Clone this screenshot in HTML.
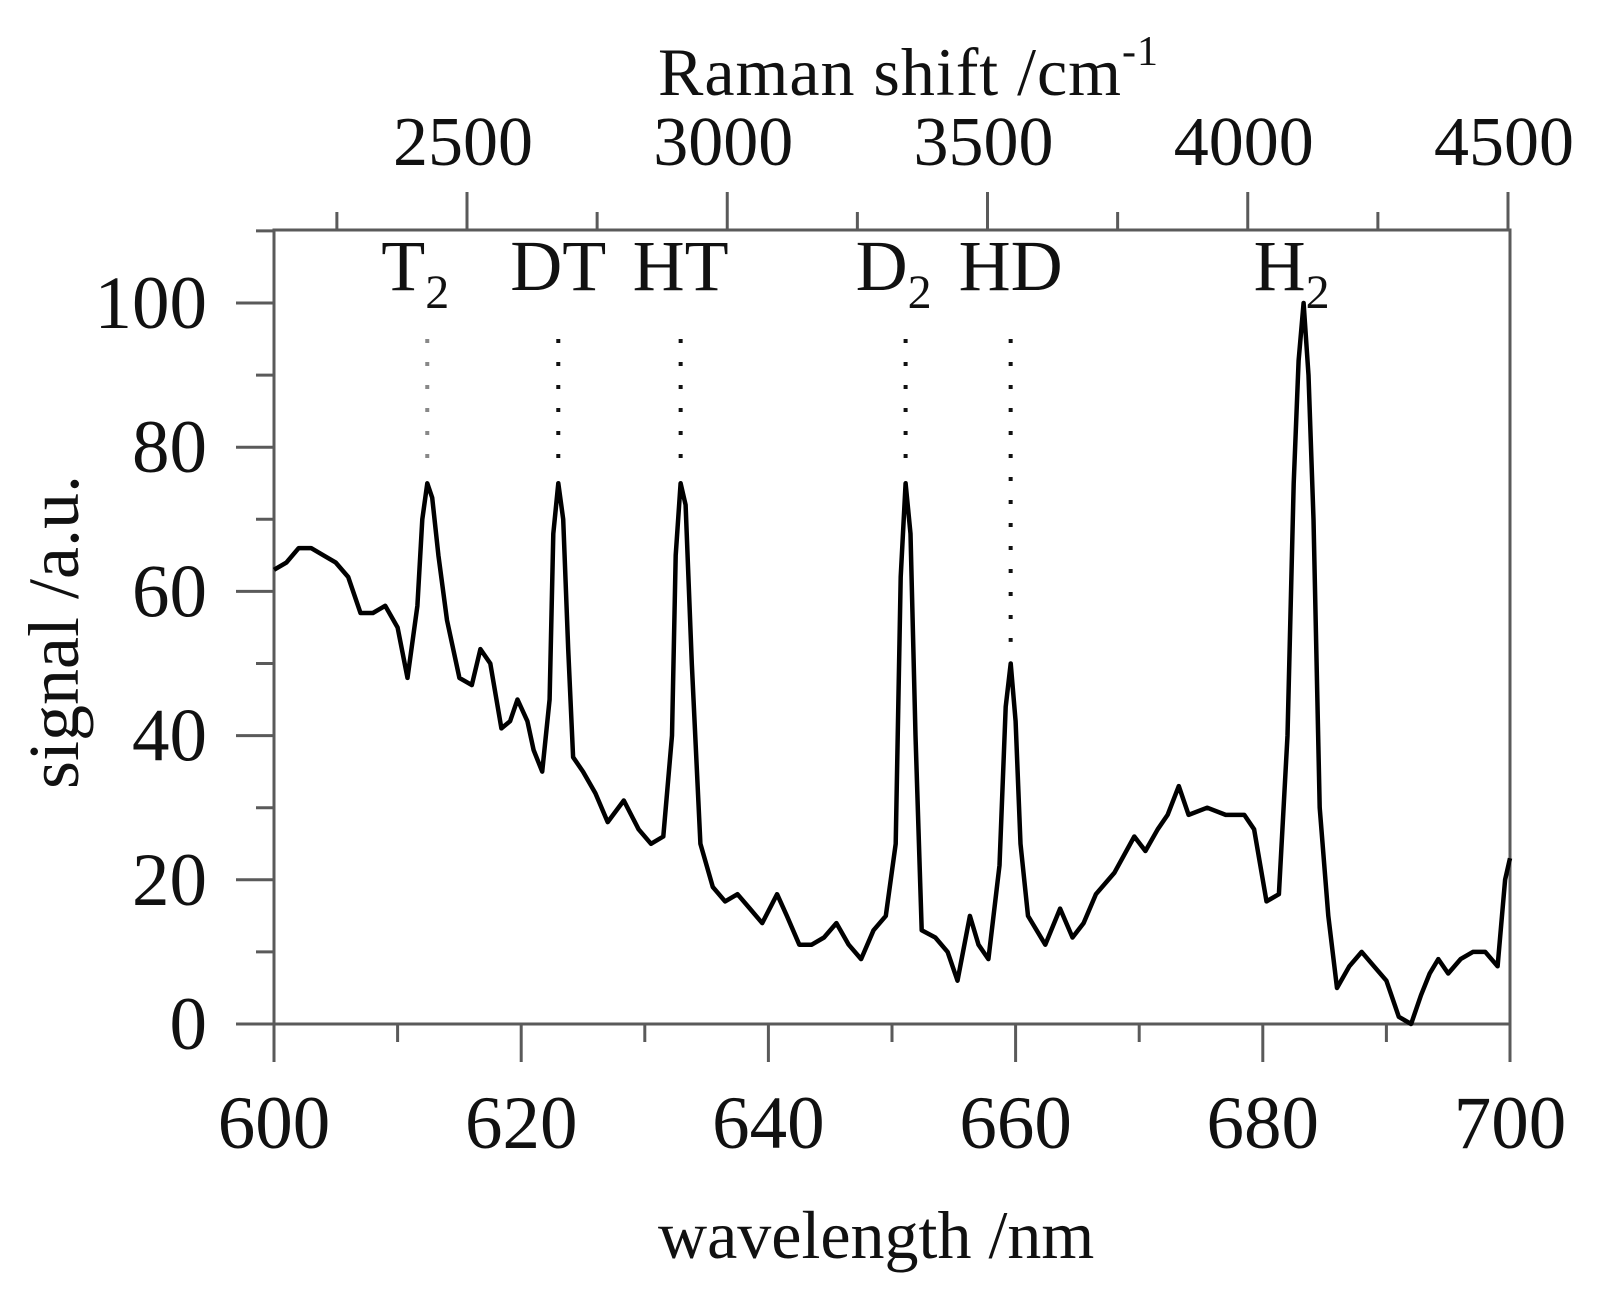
<!DOCTYPE html>
<html><head><meta charset="utf-8"><style>
html,body{margin:0;padding:0;background:#fff}
svg{display:block}
text{font-family:"Liberation Serif",serif;fill:#111}
</style></head><body>
<svg id="chart" width="1610" height="1293" viewBox="0 0 1610 1293" xmlns="http://www.w3.org/2000/svg">
<g id="axes"></g><g id="marks"></g><g id="labels"></g>
</svg>
<script>
const wavelengths=[600,601,602,603,604,605,606,607,608,609,610,610.8,611.6,612.0,612.4,612.8,613.3,614,615,616,616.7,617.5,618.4,619.1,619.7,620.5,621,621.7,622.3,622.6,623.0,623.4,623.8,624.2,625,626,627,628.3,629.5,630.5,631.5,632.2,632.5,632.9,633.3,633.8,634.5,635.5,636.5,637.5,638.5,639.5,640.7,641.5,642.5,643.5,644.5,645.5,646.5,647.5,648.5,649.5,650.3,650.7,651.1,651.5,651.9,652.4,653.5,654.5,655.3,656.3,657,657.8,658.7,659.2,659.6,660.0,660.4,661,662.4,663.6,664.6,665.5,666.5,668,669.6,670.5,671.5,672.3,673.2,674,675.5,677,678.5,679.3,680.3,681.3,682,682.5,682.9,683.3,683.7,684.1,684.6,685.3,686,687,688,689,690,691,692,692.8,693.5,694.2,695,696,697,698,699,699.6,700];
const signal=[63,64,66,66,65,64,62,57,57,58,55,48,58,70,75,73,65,56,48,47,52,50,41,42,45,42,38,35,45,68,75,70,52,37,35,32,28,31,27,25,26,40,65,75,72,50,25,19,17,18,16,14,18,15,11,11,12,14,11,9,13,15,25,62,75,68,40,13,12,10,6,15,11,9,22,44,50,42,25,15,11,16,12,14,18,21,26,24,27,29,33,29,30,29,29,27,17,18,40,75,92,100,90,70,30,15,5,8,10,8,6,1,0,4,7,9,7,9,10,10,8,20,23];
const xTicks=[600,620,640,660,680,700];
const yTicks=[0,20,40,60,80,100];
const topTicks=[2500,3000,3500,4000,4500];
const peakNames=["T","DT","HT","D","HD","H"];
const peakSubs=["2","","","2","","2"];
const peakPos=[612.4,623.0,632.9,651.1,659.6,683.3];
const peakEnd=[77,77,77,77,53,100];

const NS="http://www.w3.org/2000/svg";
const L=274,R=1510,T=230,B=1024;
const X=v=>L+(v-600)/(700-600)*(R-L);
const Y=v=>B-(v/100)*(B-303);
const XR=v=>467+(v-2500)/2000*(1508-467);
function mk(tag,parent,attrs){const e=document.createElementNS(NS,tag);for(const k in attrs)e.setAttribute(k,attrs[k]);document.getElementById(parent).appendChild(e);return e;}
const AX="#5a5a5a";
let e;
e=mk('rect','axes',{x:L,y:T,width:R-L,height:B-T,fill:'none',stroke:AX,'stroke-width':3});


for(let v=600;v<=700;v+=10){const maj=v%20===0;e=mk('line','axes',{x1:X(v),x2:X(v),y1:B,y2:B+(maj?38:18),stroke:AX,'stroke-width':3});

}
for(let v=0;v<=110;v+=10){const maj=v%20===0;e=mk('line','axes',{x1:L-(maj?38:18),x2:L,y1:Y(v),y2:Y(v),stroke:AX,'stroke-width':3});

}
for(let v=2250;v<=4500;v+=250){const maj=v%500===0;e=mk('line','axes',{x1:XR(v),x2:XR(v),y1:T,y2:T-(maj?38:18),stroke:AX,'stroke-width':3});

}
xTicks.forEach(v=>{e=mk('text','labels',{x:X(v),y:1148,'font-size':75,'text-anchor':'middle'});e.textContent=v;

});
yTicks.forEach(v=>{e=mk('text','labels',{x:207,y:Y(v)+25,'font-size':75,'text-anchor':'end'});e.textContent=v;

});
topTicks.forEach(v=>{e=mk('text','labels',{x:XR(v)-4,y:165,'font-size':70,'text-anchor':'middle'});e.textContent=v;

});
let d='';wavelengths.forEach((w,i)=>{d+=(i?'L':'M')+X(w).toFixed(1)+','+Y(signal[i]).toFixed(1);});
e=mk('path','marks',{d:d,fill:'none',stroke:'#000','stroke-width':4.5,'stroke-linejoin':'round'});


peakNames.forEach((n,i)=>{
 if(i<5){e=mk('line','marks',{x1:X(peakPos[i]),x2:X(peakPos[i]),y1:Y(95),y2:Y(peakEnd[i]),stroke:i===0?'#888':'#111','stroke-width':4,'stroke-dasharray':'4,19'});
 
 }
 e=mk('text','labels',{x:X(peakPos[i])+(peakSubs[i]?-12:0),y:290,'font-size':72,'text-anchor':'middle'});
 
 
 e.textContent=n;
 if(peakSubs[i]){const s=document.createElementNS(NS,'tspan');s.setAttribute('font-size','48');s.setAttribute('dy','18');s.textContent=peakSubs[i];e.appendChild(s);}
});
e=mk('text','labels',{x:658,y:1258,'font-size':68});e.textContent='wavelength /nm';


e=mk('text','labels',{x:658,y:95,'font-size':68,textLength:500});e.textContent='Raman shift /cm';


const sup=document.createElementNS(NS,'tspan');sup.setAttribute('font-size','42');sup.setAttribute('dy','-30');sup.textContent='-1';e.appendChild(sup);
e=mk('text','labels',{x:0,y:0,'font-size':72,'text-anchor':'middle',transform:'translate(78,632) rotate(-90)'});e.textContent='signal /a.u.';


</script>
</body></html>
